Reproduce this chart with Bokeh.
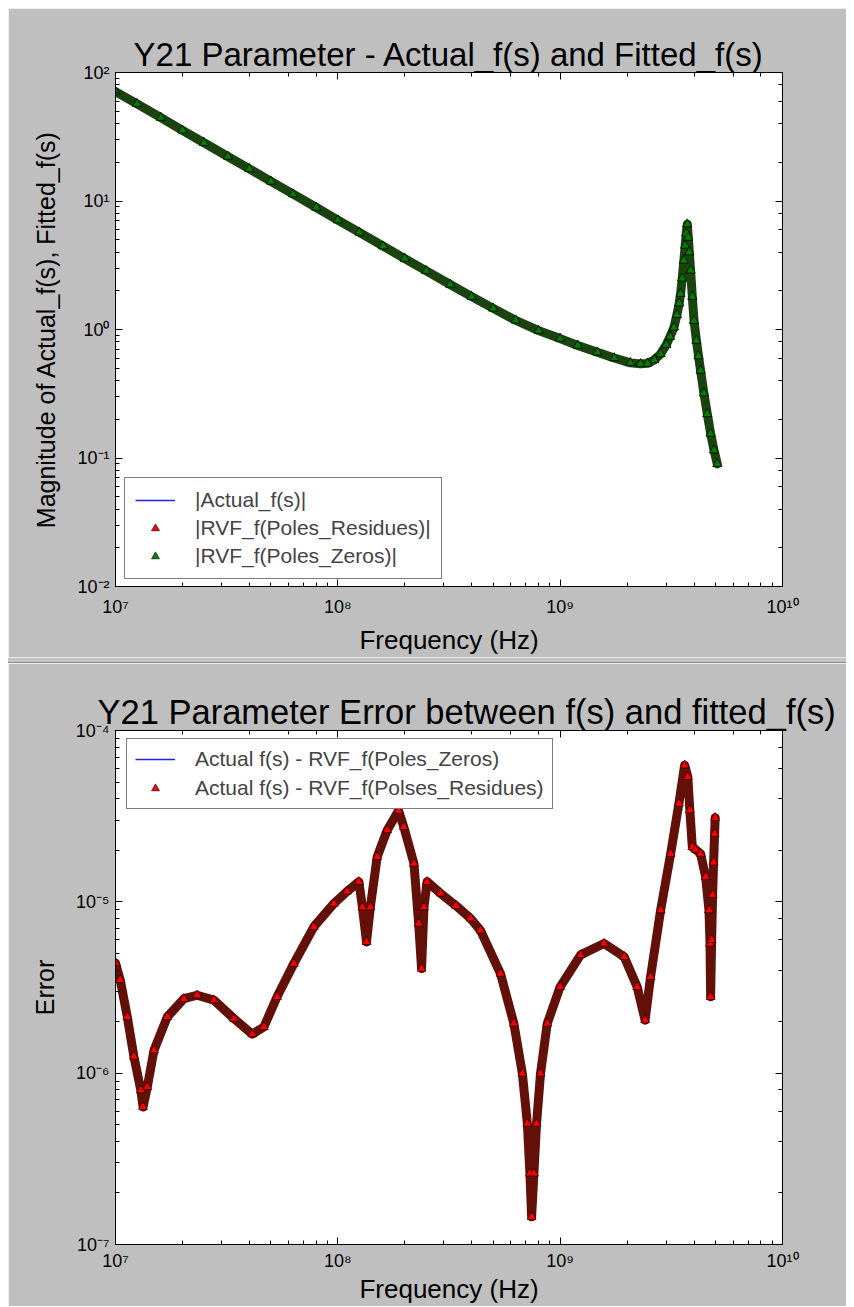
from bokeh.plotting import figure
from bokeh.models import (Range1d, LogAxis, LogTicker, CustomJSTickFormatter,
                          Legend, LegendItem, Div)
from bokeh.layouts import column
from bokeh.embed import file_html
from bokeh.resources import INLINE

# ---------------- data ----------------
# Top panel: |Y21| (actual and both fits coincide in the picture)
freq_top = [1.0e7, 1.25e7, 1.6e7, 2.0e7, 2.5e7, 3.2e7, 4.0e7, 5.0e7, 6.3e7, 8.0e7,
            1.0e8, 1.25e8, 1.6e8, 2.0e8, 2.5e8, 3.2e8, 4.0e8, 5.0e8, 6.3e8, 8.0e8,
            1.0e9, 1.2e9, 1.47e9, 1.75e9, 2.07e9, 2.3e9, 2.47e9, 2.65e9, 2.83e9, 3.0e9,
            3.12e9, 3.25e9, 3.35e9, 3.43e9, 3.48e9, 3.54e9, 3.60e9, 3.65e9, 3.69e9, 3.73e9,
            3.77e9, 3.81e9, 3.86e9, 3.93e9, 4.0e9, 4.1e9, 4.19e9, 4.28e9, 4.43e9, 4.59e9,
            4.75e9, 4.92e9, 5.09e9]
mag_actual = [71, 57, 44.5, 35.5, 28.4, 22.2, 17.8, 14.2, 11.3, 8.9,
              7.1, 5.7, 4.45, 3.56, 2.86, 2.24, 1.80, 1.46, 1.18, 0.98,
              0.85, 0.75, 0.665, 0.60, 0.55, 0.54, 0.545, 0.58, 0.645, 0.76,
              0.88, 1.04, 1.3, 1.6, 1.9, 2.5, 3.44, 4.5, 5.6, 6.6,
              5.2, 4.0, 2.88, 1.8, 1.17, 0.82, 0.62, 0.48, 0.32, 0.22,
              0.155, 0.115, 0.09]
mag_rvf_residues = list(mag_actual)
mag_rvf_zeros = list(mag_actual)

# Bottom panel: error magnitude (both curves coincide in the picture)
freq_err = [1.00e7, 1.05e7, 1.13e7, 1.21e7, 1.30e7, 1.33e7, 1.39e7, 1.49e7, 1.71e7, 2.03e7,
            2.33e7, 2.77e7, 3.41e7, 4.12e7, 4.65e7, 5.33e7, 6.34e7, 7.80e7, 9.60e7, 1.10e8,
            1.243e8, 1.29e8, 1.346e8, 1.40e8, 1.503e8, 1.667e8, 1.875e8, 1.98e8, 2.20e8, 2.31e8,
            2.38e8, 2.44e8, 2.52e8, 2.90e8, 3.40e8, 3.95e8, 4.38e8, 5.39e8, 6.19e8, 6.76e8,
            7.12e8, 7.31e8, 7.44e8, 7.62e8, 7.83e8, 8.16e8, 8.75e8, 1.00e9, 1.236e9, 1.575e9,
            1.94e9, 2.22e9, 2.41e9, 2.55e9, 2.83e9, 3.14e9, 3.42e9, 3.63e9, 3.75e9, 3.83e9,
            3.93e9, 4.06e9, 4.28e9, 4.51e9, 4.67e9, 4.72e9, 4.75e9, 4.80e9, 4.85e9, 4.90e9,
            4.95e9, 4.98e9]
err_zeros = [4.4e-6, 3.5e-6, 2.13e-6, 1.25e-6, 7.95e-7, 6.35e-7, 8.3e-7, 1.36e-6, 2.13e-6, 2.72e-6,
             2.85e-6, 2.67e-6, 2.08e-6, 1.69e-6, 1.86e-6, 2.79e-6, 4.36e-6, 7.15e-6, 9.77e-6, 1.15e-5,
             1.31e-5, 9.3e-6, 5.83e-6, 9.3e-6, 1.83e-5, 2.62e-5, 3.4e-5, 2.74e-5, 1.67e-5, 7.46e-6,
             4.08e-6, 9.3e-6, 1.31e-5, 1.12e-5, 9.5e-6, 8.0e-6, 6.82e-6, 3.81e-6, 1.95e-6, 9.96e-7,
             5.08e-7, 2.6e-7, 1.45e-7, 2.6e-7, 5.08e-7, 9.96e-7, 1.95e-6, 3.19e-6, 4.9e-6, 5.71e-6,
             4.78e-6, 3.19e-6, 2.04e-6, 3.65e-6, 8.93e-6, 1.91e-5, 3.75e-5, 6.27e-5, 5.37e-5, 3.43e-5,
             2.09e-5, 2.02e-5, 1.91e-5, 1.40e-5, 8.93e-6, 5.71e-6, 2.79e-6, 6.0e-6, 1.1e-5, 1.7e-5,
             2.5e-5, 3.1e-5]
err_residues = list(err_zeros)

# ---------------- styling ----------------
FONT = "Liberation Sans"
GREY = "#bfbfbf"

fmt = CustomJSTickFormatter(code=r"""
const sup = {"-": "\u207b", "0": "\u2070", "1": "\u00b9", "2": "\u00b2", "3": "\u00b3",
             "4": "\u2074", "5": "\u2075", "6": "\u2076", "7": "\u2077", "8": "\u2078", "9": "\u2079"};
const e = Math.round(Math.log10(tick));
let s = "";
for (const c of String(e)) { s += sup[c]; }
return "10" + s;
""")
blank_fmt = CustomJSTickFormatter(code="return '';")


def style_ticks(ax):
    ax.axis_line_color = "black"
    ax.major_tick_in = 7
    ax.major_tick_out = 0
    ax.minor_tick_in = 4
    ax.minor_tick_out = 0
    ax.major_tick_line_color = "black"
    ax.minor_tick_line_color = "black"


def style_main(ax, label, label_size, tick_standoff, label_standoff):
    style_ticks(ax)
    ax.formatter = fmt
    ax.major_label_text_font = FONT
    ax.major_label_text_font_size = "18px"
    ax.major_label_text_color = "black"
    ax.major_label_standoff = tick_standoff
    ax.axis_label = label
    ax.axis_label_text_font = FONT
    ax.axis_label_text_font_style = "normal"
    ax.axis_label_text_color = "black"
    ax.axis_label_text_font_size = label_size
    ax.axis_label_standoff = label_standoff


def style_mirror(ax):
    style_ticks(ax)
    ax.formatter = blank_fmt
    ax.major_label_text_font_size = "1px"
    ax.major_label_text_alpha = 0
    ax.major_label_standoff = 0


def make_fig(title, title_size, xlab, ylab, y0, y1, btop, bbot, x_tick_so, x_lab_so):
    p = figure(x_axis_type="log", y_axis_type="log",
               x_range=Range1d(1e7, 1e10), y_range=Range1d(y0, y1),
               frame_width=667, frame_height=514,
               min_border_left=107, min_border_right=64,
               min_border_top=btop, min_border_bottom=bbot,
               output_backend="svg", toolbar_location=None,
               background_fill_color="white", border_fill_color=GREY,
               title=title)
    p.grid.visible = False
    p.outline_line_color = "black"
    p.outline_line_width = 1
    p.title.text_font = FONT
    p.title.text_font_size = title_size
    p.title.text_font_style = "normal"
    p.title.text_color = "black"
    style_main(p.below[0], xlab, "26px", x_tick_so, x_lab_so)
    style_main(p.left[0], ylab, "25px", 6, 14)
    top_ax = LogAxis(ticker=LogTicker())
    right_ax = LogAxis(ticker=LogTicker())
    style_mirror(top_ax)
    style_mirror(right_ax)
    p.add_layout(top_ax, "above")
    p.add_layout(right_ax, "right")
    return p


# ---------------- top figure ----------------
p1 = make_fig("Y21 Parameter - Actual_f(s) and Fitted_f(s)", "33px",
              "Frequency (Hz)", "Magnitude of Actual_f(s), Fitted_f(s)",
              1e-2, 1e2, 64, 68, 10, 5)
p1.title.align = "center"
p1.title.standoff = 0

r_act = p1.line(freq_top, mag_actual, line_color="#2020ff", line_width=1.5)
p1.line(freq_top, mag_rvf_zeros, line_width=9, line_color="#1a4310", line_join="round", line_cap="round")
r_res = p1.scatter(freq_top, mag_rvf_residues, marker="triangle", size=9,
                   fill_color="#ff0000", line_color="black", line_width=0.6)
r_zer = p1.scatter(freq_top, mag_rvf_zeros, marker="triangle", size=9,
                   fill_color="#008000", line_color="black", line_width=0.6)

leg1 = Legend(items=[LegendItem(label="|Actual_f(s)|", renderers=[r_act]),
                     LegendItem(label="|RVF_f(Poles_Residues)|", renderers=[r_res]),
                     LegendItem(label="|RVF_f(Poles_Zeros)|", renderers=[r_zer])],
              location=(9, 7), margin=0, padding=10, spacing=4,
              glyph_width=40, glyph_height=20, label_height=20, label_standoff=20,
              label_text_font=FONT, label_text_font_size="21px",
              border_line_color="black", border_line_width=1,
              background_fill_color="white", background_fill_alpha=1.0)
p1.add_layout(leg1)

# ---------------- separator (window chrome) ----------------
sep = Div(text="", width=838, height=6, margin=0,
          styles={"background-color": "#c4c4c4", "border-top": "1px solid #e6e6e6",
                  "border-bottom": "1px solid #8a8a8a", "box-sizing": "border-box",
                  "overflow": "hidden", "font-size": "0px", "line-height": "0px",
                  "height": "6px", "max-height": "6px"})

# ---------------- bottom figure ----------------
p2 = make_fig("Y21 Parameter Error between f(s) and fitted_f(s)", "34.5px",
              "Frequency (Hz)", "Error", 1e-7, 1e-4, 67, 58, 6, 0)
p2.title.align = "left"
p2.title.offset = -18
p2.title.standoff = 0

r_e1 = p2.line(freq_err, err_zeros, line_color="#2020ff", line_width=1.5)
p2.line(freq_err, err_residues, line_width=9, line_color="#631008", line_join="round", line_cap="round")
r_e2 = p2.scatter(freq_err, err_residues, marker="triangle", size=9,
                  fill_color="#ff0000", line_color="black", line_width=0.6)

leg2 = Legend(items=[LegendItem(label="Actual f(s) - RVF_f(Poles_Zeros)", renderers=[r_e1]),
                     LegendItem(label="Actual f(s) - RVF_f(Polses_Residues)", renderers=[r_e2])],
              location=(11, 435), margin=0, padding=8, spacing=5,
              glyph_width=40, glyph_height=20, label_height=20, label_standoff=20,
              label_text_font=FONT, label_text_font_size="21px",
              border_line_color="black", border_line_width=1,
              background_fill_color="white", background_fill_alpha=1.0)
p2.add_layout(leg2)

layout = column(p1, sep, p2, spacing=0, margin=(8, 0, 0, 8))
open("out.html", "w").write(file_html(layout, INLINE))
